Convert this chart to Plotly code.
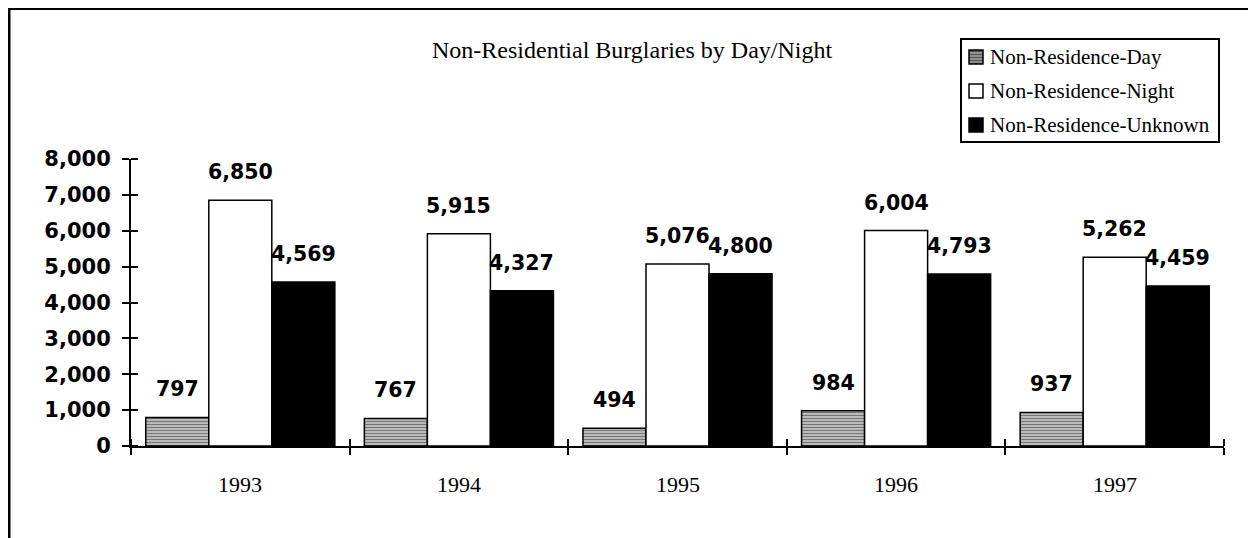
import plotly.graph_objects as go

years = ["1993", "1994", "1995", "1996", "1997"]
series_names = ["Non-Residence-Day", "Non-Residence-Night", "Non-Residence-Unknown"]
day = [797, 767, 494, 984, 937]
night = [6850, 5915, 5076, 6004, 5262]
unknown = [4569, 4327, 4800, 4793, 4459]

# page pixels (the html body adds an 8px margin)
OFF = 8
W, H = 1256 - OFF, 538 - OFF
L, R, T, B = 131, 1224, 159, 446


def px(x):
    return (x - L) / (R - L)


def py(y):
    return (B - y) / (B - T)


pos = list(range(len(years)))
bounds = [p - 0.5 for p in pos] + [pos[-1] + 0.5]

fig = go.Figure()
fig.add_trace(go.Bar(x=pos, y=day, name=series_names[0],
                     marker=dict(color="#bbbbbb", line=dict(color="black", width=1.5),
                                 pattern=dict(shape="-", fgcolor="#222222", bgcolor="#c8c8c8",
                                              size=3, solidity=0.45))))
fig.add_trace(go.Bar(x=pos, y=night, name=series_names[1],
                     marker=dict(color="white", line=dict(color="black", width=1.5))))
fig.add_trace(go.Bar(x=pos, y=unknown, name=series_names[2],
                     marker=dict(color="black", line=dict(color="black", width=1.5))))

# value labels above bars
bar_w = (R - L) / len(years) * (1 - 0.135) / 3
for i, vals in enumerate([day, night, unknown]):
    for p, v in zip(pos, vals):
        fig.add_annotation(x=p, y=v, text=f"{v:,}", showarrow=False,
                           xshift=(i - 1) * bar_w, yshift=14, yanchor="bottom",
                           font=dict(family="DejaVu Sans", size=20.5, color="black", weight="bold"))

# category labels
for p, yr in zip(pos, years):
    fig.add_annotation(x=p, y=py(484), yref="paper", text=yr, showarrow=False,
                       yanchor="middle", font=dict(family="Liberation Serif", size=22, color="black"))

yt = list(range(0, 8001, 1000))
fig.update_layout(
    width=W, height=H,
    margin=dict(l=L - OFF, r=W - (R - OFF), t=T - OFF, b=H - (B - OFF), pad=0),
    paper_bgcolor="white", plot_bgcolor="white",
    barmode="group", bargap=0.135, bargroupgap=0,
    showlegend=False,
    xaxis=dict(range=[-0.5, len(years) - 0.5], tickvals=bounds, showticklabels=False,
               ticks="outside", ticklen=7, tickwidth=2, tickcolor="black",
               showline=True, linecolor="black", linewidth=2, showgrid=False, zeroline=False,
               minor=dict(tickvals=bounds, ticks="inside", ticklen=7, tickwidth=2,
                          tickcolor="black", showgrid=False)),
    yaxis=dict(range=[0, 8000], tickvals=yt, tickformat=",", ticks="outside", ticklen=7,
               tickwidth=2, tickcolor="black", showline=True, linecolor="black", linewidth=2,
               showgrid=False, zeroline=False, ticklabelstandoff=7,
               minor=dict(tickvals=yt, ticks="inside", ticklen=7, tickwidth=2, tickcolor="black",
                          showgrid=False),
               tickfont=dict(family="DejaVu Sans", size=21, color="black", weight="bold")),
)

# title
fig.add_annotation(x=px(632), y=py(50), xref="paper", yref="paper", showarrow=False,
                   yanchor="middle", text="Non-Residential Burglaries by Day/Night",
                   font=dict(family="Liberation Serif", size=24, color="black"))

# outer frame
fig.add_shape(type="rect", xref="paper", yref="paper", x0=px(9), x1=px(1275), y0=py(8.5), y1=py(560),
              line=dict(color="black", width=3))

# legend
fig.add_shape(type="rect", xref="paper", yref="paper", x0=px(961), x1=px(1219), y0=py(39), y1=py(142),
              line=dict(color="black", width=2), fillcolor="white")
row_y = [57, 91, 125]
sq_fill = ["#555555", "white", "black"]
for name, ry, fc in zip(series_names, row_y, sq_fill):
    fig.add_shape(type="rect", xref="paper", yref="paper", x0=px(969), x1=px(983),
                  y0=py(ry - 7), y1=py(ry + 7), line=dict(color="black", width=1.5), fillcolor=fc)
    fig.add_annotation(x=px(988), y=py(ry), xref="paper", yref="paper", showarrow=False,
                       xanchor="left", yanchor="middle", text=name,
                       font=dict(family="Liberation Serif", size=21, color="black"))
for ly in [53, 56, 59, 62]:
    fig.add_shape(type="line", xref="paper", yref="paper", x0=px(970), x1=px(982),
                  y0=py(ly), y1=py(ly), line=dict(color="#cccccc", width=1))

fig.write_html("out.html")
